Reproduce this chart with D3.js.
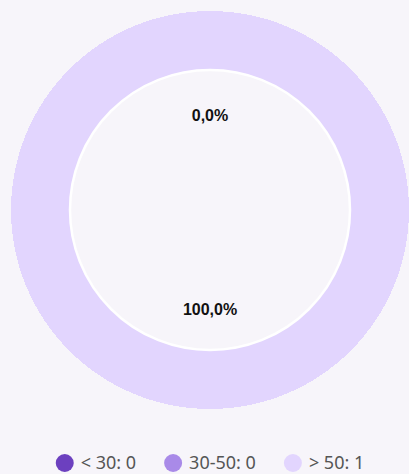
<!DOCTYPE html>
<html>
<head>
<meta charset="utf-8">
<script src="https://cdn.jsdelivr.net/npm/d3@7"></script>
<style>
  html, body { margin: 0; padding: 0; background: #f7f5fa; }
</style>
</head>
<body>
<div id="container"></div>
<script>
const categories = ["< 30", "30-50", "> 50"];
const counts = [0, 0, 1];
const colors = ["#6c40bf", "#a98ae8", "#e2d5fe"];

const width = 409;
const height = 474;
const cx = 210;
const cy = 210;
const outerRadius = 199;
const innerRadius = 140;

const svg = d3.select("#container").append("svg")
  .attr("width", width)
  .attr("height", height);

const total = d3.sum(counts);
const pie = d3.pie().sort(null).value((d) => d.value);
const data = pie(categories.map((c, i) => ({ name: c, value: counts[i], color: colors[i] })));

const arc = d3.arc().innerRadius(innerRadius).outerRadius(outerRadius);
const labelArc = d3.arc().innerRadius(97).outerRadius(97);

const g = svg.append("g").attr("transform", `translate(${cx},${cy})`);

g.selectAll("path.slice")
  .data(data)
  .join("path")
  .attr("class", "slice")
  .attr("d", arc)
  .attr("fill", (d) => d.data.color)
  .attr("shape-rendering", "crispEdges");

// white rim on the inner edge
g.append("circle")
  .attr("r", innerRadius)
  .attr("fill", "none")
  .attr("stroke", "#ffffff")
  .attr("stroke-width", 2.5);

const fmt = (v) => (v * 100).toFixed(1).replace(".", ",") + "%";

// only distinct label positions (zero slices share one spot)
const seen = new Set();
const labels = data.filter((d) => {
  const key = fmt(d.value / total) + Math.round(d.startAngle * 100);
  if (seen.has(key)) return false;
  seen.add(key);
  return true;
});

g.selectAll("text.pct")
  .data(labels)
  .join("text")
  .attr("class", "pct")
  .attr("transform", (d) => `translate(${labelArc.centroid(d)})`)
  .attr("text-anchor", "middle")
  .attr("dy", "0.5em")
  .style("font-family", "'Liberation Sans', Arial, sans-serif")
  .style("font-weight", "bold")
  .style("font-size", "16px")
  .attr("fill", "#111")
  .text((d) => fmt(d.value / total));

// legend
const legend = svg.append("g").attr("transform", "translate(0,463)");
const items = legend.selectAll("g.item")
  .data(categories.map((c, i) => ({ name: c, value: counts[i], color: colors[i] })))
  .join("g")
  .attr("class", "item");

items.append("circle")
  .attr("r", 9)
  .attr("cx", 9)
  .attr("fill", (d) => d.color);

items.append("text")
  .attr("x", 25)
  .attr("dy", "0.36em")
  .style("font-family", "'Noto Sans', sans-serif")
  .style("font-size", "18px")
  .attr("fill", "#555")
  .text((d) => `${d.name}: ${d.value}`);

const gap = 28;
const widths = [];
items.each(function () {
  widths.push(25 + this.querySelector("text").getComputedTextLength());
});
const totalWidth = d3.sum(widths) + gap * (widths.length - 1);
let x = cx - totalWidth / 2;
items.attr("transform", (d, i) => {
  const t = `translate(${x},0)`;
  x += widths[i] + gap;
  return t;
});
</script>
</body>
</html>
